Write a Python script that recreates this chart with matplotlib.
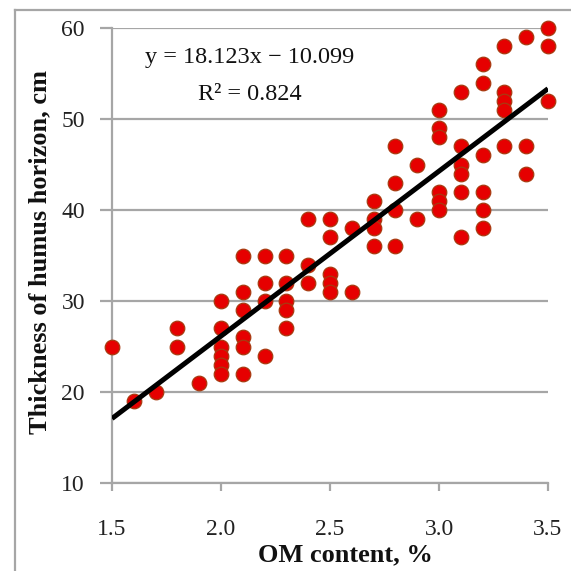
import matplotlib
matplotlib.use("Agg")
import matplotlib.pyplot as plt
from matplotlib.lines import Line2D
import numpy as np

# OM content (%) and humus horizon thickness (cm)
om = [1.5, 1.6, 1.7, 1.8, 1.8, 1.9,
      2.0, 2.0, 2.0, 2.0, 2.0, 2.0,
      2.1, 2.1, 2.1, 2.1, 2.1, 2.1,
      2.2, 2.2, 2.2, 2.2,
      2.3, 2.3, 2.3, 2.3, 2.3,
      2.4, 2.4, 2.4,
      2.5, 2.5, 2.5, 2.5, 2.5,
      2.6, 2.6,
      2.7, 2.7, 2.7, 2.7,
      2.8, 2.8, 2.8, 2.8,
      2.9, 2.9,
      3.0, 3.0, 3.0, 3.0, 3.0, 3.0,
      3.1, 3.1, 3.1, 3.1, 3.1, 3.1,
      3.2, 3.2, 3.2, 3.2, 3.2, 3.2,
      3.3, 3.3, 3.3, 3.3, 3.3,
      3.4, 3.4, 3.4,
      3.5, 3.5, 3.5]
thickness = [25, 19, 20, 27, 25, 21,
             30, 27, 25, 24, 23, 22,
             35, 31, 29, 26, 25, 22,
             35, 32, 30, 24,
             35, 32, 30, 29, 27,
             39, 34, 32,
             39, 37, 33, 32, 31,
             38, 31,
             41, 39, 38, 36,
             47, 43, 40, 36,
             45, 39,
             51, 49, 48, 42, 41, 40,
             53, 47, 45, 44, 42, 37,
             56, 54, 46, 42, 40, 38,
             58, 53, 52, 51, 47,
             59, 47, 44,
             60, 58, 52]

fit_slope = 18.123
fit_intercept = -10.099
fit_r2 = 0.824
fit_x_range = [1.5, 3.5]

x_ticks = [1.5, 2.0, 2.5, 3.0, 3.5]
x_tick_labels = ["1.5", "2.0", "2.5", "3.0", "3.5"]
y_ticks = [10, 20, 30, 40, 50, 60]

plt.rcParams['font.family'] = ['Liberation Serif', 'DejaVu Serif']

fig = plt.figure(figsize=(5.71, 5.71), dpi=100)
ax = fig.add_axes([112/571, 1 - 483/571, (548 - 112)/571, (483 - 28)/571])

grey = '#A6A6A6'
ax.set_xlim(1.5, 3.5)
ax.set_ylim(10, 60)
ax.set_yticks(y_ticks)
ax.set_xticks(x_ticks)
ax.set_xticklabels(x_tick_labels)
ax.yaxis.grid(True, color=grey, linewidth=1.6, zorder=0)
ax.set_axisbelow(True)
for s in ['top', 'right']:
    ax.spines[s].set_visible(False)
for s in ['left', 'bottom']:
    ax.spines[s].set_color(grey)
    ax.spines[s].set_linewidth(1.6)
ax.tick_params(axis='y', direction='out', length=8.5, width=1.6, color=grey,
               labelsize=17, pad=11, labelcolor='#222222')
ax.tick_params(axis='x', direction='out', length=6, width=1.6, color=grey,
               labelsize=17, pad=20, labelcolor='#222222')

ax.scatter(om, thickness, s=110, facecolor='#E60000', edgecolor='#A83A10',
           linewidth=0.9, zorder=3, clip_on=False)

fx = np.array(fit_x_range)
ax.plot(fx, fit_slope * fx + fit_intercept, color='black', linewidth=3.6,
        solid_capstyle='butt', zorder=4)

ax.text((250 - 112) / 436, 0.935, "y = %.3fx \u2212 %.3f" % (fit_slope, -fit_intercept),
        transform=ax.transAxes, ha='center', va='center', fontsize=17.5, color='#111111')
ax.text((250 - 112) / 436, 0.853, "R\u00b2 = %.3f" % fit_r2,
        transform=ax.transAxes, ha='center', va='center', fontsize=17.5, color='#111111')

fig.text(345/571, 1 - 555/571, "OM content, %", ha='center', va='center',
         fontsize=19, fontweight='bold', color='#111111')
fig.text(40/571, 1 - 252/571, "Thickness of humus horizon, cm", ha='center',
         va='center', rotation=90, fontsize=19, fontweight='bold', color='#111111')

# outer frame
fig.add_artist(Line2D([15/571, 15/571], [0, 1 - 10/571], transform=fig.transFigure,
                      color=grey, linewidth=1.6))
fig.add_artist(Line2D([15/571, 1], [1 - 10/571, 1 - 10/571], transform=fig.transFigure,
                      color=grey, linewidth=1.6))

fig.savefig("out.png", dpi=100)
